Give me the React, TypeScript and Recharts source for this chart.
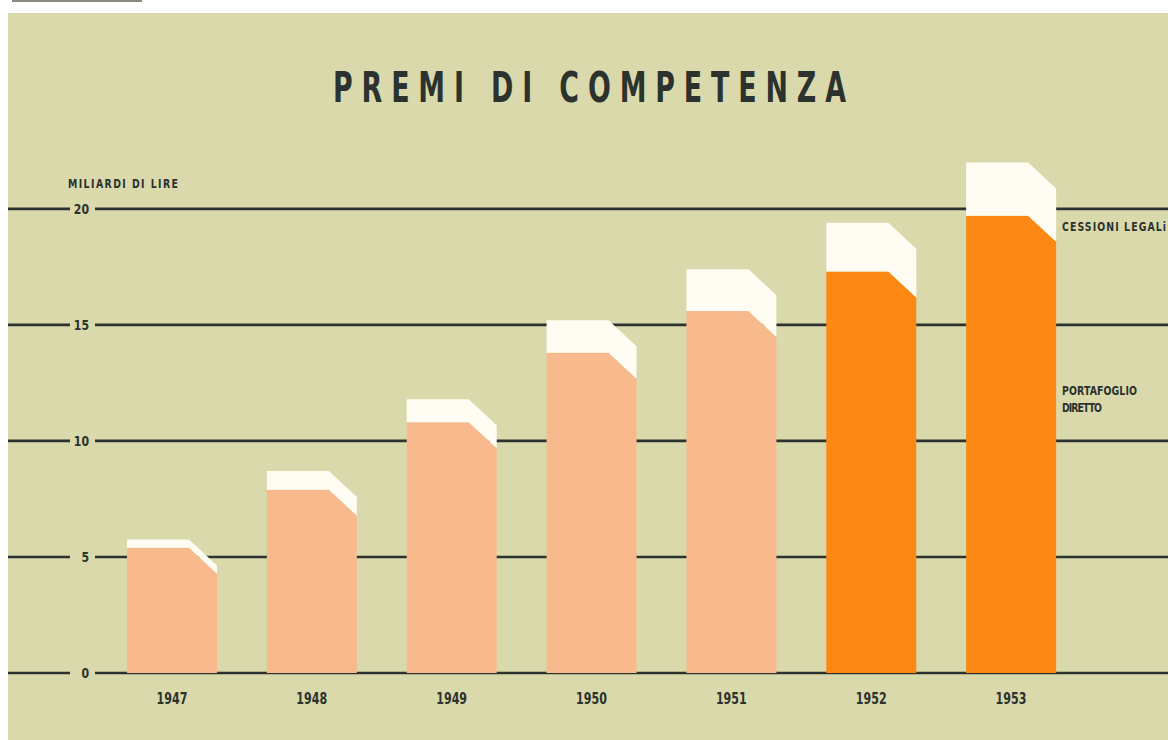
import { BarChart, Bar, XAxis, YAxis, CartesianGrid, Cell } from "recharts";

const years = ["1947", "1948", "1949", "1950", "1951", "1952", "1953"];
const portafoglioDiretto = [5.4, 7.9, 10.8, 13.8, 15.6, 17.3, 19.7];
const cessioniLegali = [0.35, 0.8, 1.0, 1.4, 1.8, 2.1, 2.3];
const yTicks = [0, 5, 10, 15, 20];

const data = years.map((year, i) => ({
  year,
  portafoglio: portafoglioDiretto[i],
  cessioni: cessioniLegali[i],
}));

const BG = "#d9d9ab";
const INK = "#2c322e";
const PEACH = "#f8ba8c";
const ORANGE = "#fd8814";
const CAP = "#fffdf3";
const FONT = "'DejaVu Sans', sans-serif";

// chamfered top-right corner, like a cut card
const CUT_X = 28;
const CUT_Y = 26;

const LowerShape = (props: any) => {
  const { x, y, width, height, fill } = props;
  if (!height) return null;
  const pts = [
    [x, y],
    [x + width - CUT_X, y],
    [x + width, y + CUT_Y],
    [x + width, y + height],
    [x, y + height],
  ];
  return <polygon points={pts.map((p) => p.join(",")).join(" ")} fill={fill} />;
};

const UpperShape = (props: any) => {
  const { x, y, width, height, fill } = props;
  if (!height) return null;
  const b = y + height;
  const pts = [
    [x, y],
    [x + width - CUT_X, y],
    [x + width, y + CUT_Y],
    [x + width, b + CUT_Y],
    [x + width - CUT_X, b],
    [x, b],
  ];
  return <polygon points={pts.map((p) => p.join(",")).join(" ")} fill={fill} />;
};

// condensed bold lettering: squeeze DejaVu horizontally
const Cond = (props: any) => {
  const { x, y, size, anchor = "start", sx = 0.72, len, children } = props;
  return (
    <text
      transform={`scale(${sx},1)`}
      x={x / sx}
      y={y}
      textAnchor={anchor}
      fontFamily={FONT}
      fontWeight="bold"
      fontSize={size}
      fill={INK}
      textLength={len ? len / sx : undefined}
      lengthAdjust="spacing"
    >
      {children}
    </text>
  );
};

const YTick = (props: any) => {
  const { y, payload } = props;
  return (
    <g>
      <rect x={70} y={y - 6} width={25} height={12} fill={BG} />
      <Cond x={89} y={y + 5} size={14} anchor="end" sx={0.78}>
        {payload.value}
      </Cond>
    </g>
  );
};

const XTick = (props: any) => {
  const { x, y, payload } = props;
  return (
    <Cond x={x} y={y + 23} size={15} anchor="middle" sx={0.74}>
      {payload.value}
    </Cond>
  );
};

const GridLine = (props: any) => {
  const { x1, x2, y1, y2 } = props;
  return <line x1={x1} x2={x2} y1={y1} y2={y2} stroke={INK} strokeWidth={2.6} />;
};

export default function App() {
  return (
    <div style={{ position: "absolute", left: 0, top: 0, width: 1168, height: 740, background: "#fff", overflow: "hidden" }}>
      <div style={{ position: "absolute", left: 12, top: 0, width: 130, height: 1.5, background: "#8a8a80" }} />
      <div style={{ position: "absolute", left: 8, top: 13, right: 0, bottom: 0, background: BG }} />
      <div style={{ position: "absolute", left: 0, top: 0 }}>
        <BarChart
          width={1168}
          height={740}
          data={data}
          margin={{ top: 116, right: 0, bottom: 37, left: 7 }}
          barSize={90}
        >
          <CartesianGrid vertical={false} horizontal={GridLine} horizontalValues={yTicks} />
          <XAxis
            dataKey="year"
            height={30}
            padding={{ left: 94, right: 87 }}
            axisLine={false}
            tickLine={false}
            tick={<XTick />}
          />
          <YAxis
            width={1}
            domain={[0, 24]}
            ticks={yTicks}
            interval={0}
            axisLine={false}
            tickLine={false}
            tick={<YTick />}
          />
          <Bar dataKey="portafoglio" stackId="a" shape={<LowerShape />} isAnimationActive={false}>
            {data.map((d, i) => (
              <Cell key={d.year} fill={i >= 5 ? ORANGE : PEACH} />
            ))}
          </Bar>
          <Bar dataKey="cessioni" stackId="a" fill={CAP} shape={<UpperShape />} isAnimationActive={false} />
        </BarChart>
      </div>
      <svg width={1168} height={740} style={{ position: "absolute", left: 0, top: 0, pointerEvents: "none" }}>
        <Cond x={333} y={102} size={42} len={513} sx={0.64}>
          PREMI DI COMPETENZA
        </Cond>
        <Cond x={68} y={188} size={13} len={110}>
          MILIARDI DI LIRE
        </Cond>
        <Cond x={1062} y={231} size={13} len={104}>
          CESSIONI LEGALi
        </Cond>
        <Cond x={1062} y={395} size={13} len={75}>
          PORTAFOGLIO
        </Cond>
        <Cond x={1062} y={412} size={13} len={40}>
          DIRETTO
        </Cond>
      </svg>
    </div>
  );
}
